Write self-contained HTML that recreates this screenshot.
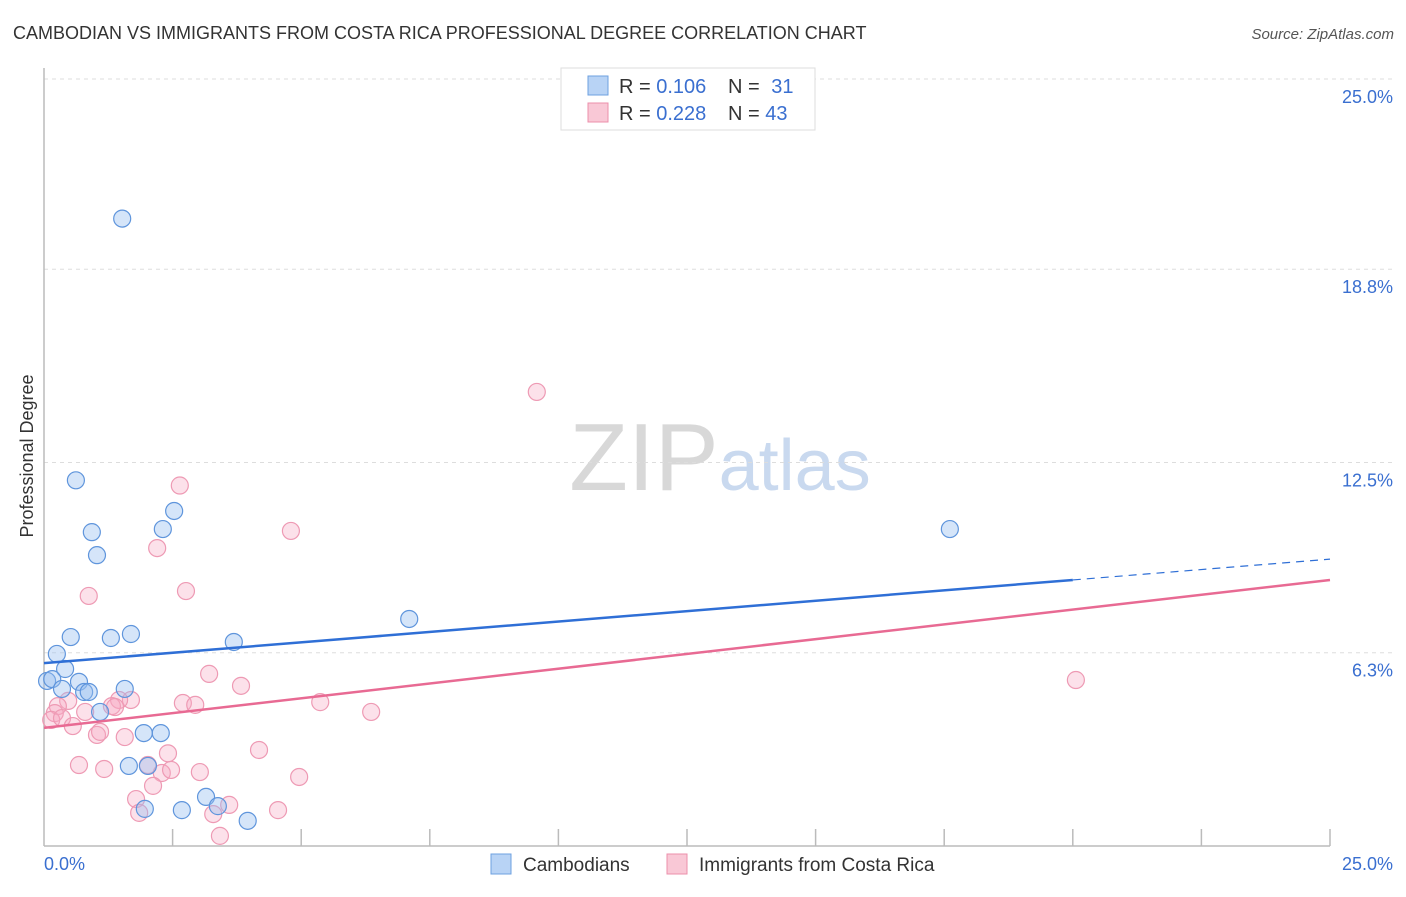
<!DOCTYPE html>
<html><head><meta charset="utf-8"><style>
body{margin:0;background:#fff;font-family:"Liberation Sans",sans-serif;}
svg text{font-family:"Liberation Sans",sans-serif;}
</style></head><body>
<svg id="chart" width="1406" height="892" xmlns="http://www.w3.org/2000/svg">
<text x="13" y="39" font-size="18" fill="#333">CAMBODIAN VS IMMIGRANTS FROM COSTA RICA PROFESSIONAL DEGREE CORRELATION CHART</text>
<text x="1394" y="39" font-size="15" fill="#555" text-anchor="end" font-style="italic">Source: ZipAtlas.com</text>
<text x="720" y="490" font-size="96" text-anchor="middle" fill="#ddd" font-family="Liberation Serif"><tspan fill="#d8d8d8">ZIP</tspan><tspan fill="#c9d9ef" font-family="Liberation Sans" font-size="72">atlas</tspan></text>
<text transform="translate(33,456) rotate(-90)" font-size="18" fill="#333" text-anchor="middle">Professional Degree</text>
<g id="grid"></g><g id="axes"></g><g id="marks"></g>
<g>
<rect x="561" y="68" width="254" height="62" fill="#fff" stroke="#ddd"/>
<rect x="588" y="76" width="20" height="19" fill="#b8d3f5" stroke="#6ea0e0"/>
<text x="619" y="93" font-size="20" fill="#333">R = <tspan fill="#3a6fd0">0.106</tspan></text>
<text x="728" y="93" font-size="20" fill="#333">N = <tspan fill="#3a6fd0" dx="6">31</tspan></text>
<rect x="588" y="103" width="20" height="19" fill="#f9c8d6" stroke="#ec8fab"/>
<text x="619" y="120" font-size="20" fill="#333">R = <tspan fill="#3a6fd0">0.228</tspan></text>
<text x="728" y="120" font-size="20" fill="#333">N = <tspan fill="#3a6fd0">43</tspan></text>
</g>
<g>
<rect x="491" y="854" width="20" height="20" fill="#b8d3f5" stroke="#6ea0e0"/>
<text x="523" y="871" font-size="19" fill="#333">Cambodians</text>
<rect x="667" y="854" width="20" height="20" fill="#f9c8d6" stroke="#ec8fab"/>
<text x="699" y="871" font-size="19" fill="#333">Immigrants from Costa Rica</text>
</g>
</svg>
<script>
const yTicks=[25.0,18.8,12.5,6.3];
const yTickLabels=["25.0%","18.8%","12.5%","6.3%"];
const xTickCount=10;
const cambodiaX=[1.52,0.62,0.93,1.03,2.31,2.53,0.52,1.30,1.69,3.69,7.10,17.61,0.25,0.41,0.06,0.16,0.68,0.35,0.78,0.87,1.57,1.09,2.27,1.94,1.65,2.02,1.96,2.68,3.15,3.38,3.96];
const cambodiaY=[20.45,11.92,10.23,9.48,10.33,10.92,6.81,6.78,6.91,6.65,7.40,10.33,6.26,5.77,5.38,5.44,5.35,5.12,5.02,5.02,5.12,4.37,3.68,3.68,2.61,2.61,1.21,1.17,1.60,1.30,0.82];
const costaX=[9.58,2.64,4.80,2.20,0.87,2.76,3.21,3.83,20.06,5.37,2.70,2.94,1.69,1.46,1.32,1.38,0.47,0.27,0.21,0.14,0.35,0.56,0.80,1.03,1.57,1.09,6.36,2.41,4.18,0.68,1.17,2.02,2.29,2.47,3.03,4.96,2.12,1.79,1.85,3.29,3.60,4.55,3.42];
const costaY=[14.80,11.75,10.27,9.71,8.15,8.31,5.61,5.22,5.41,4.69,4.66,4.60,4.76,4.76,4.56,4.53,4.73,4.56,4.33,4.11,4.17,3.91,4.37,3.62,3.55,3.72,4.37,3.02,3.13,2.64,2.51,2.64,2.38,2.48,2.41,2.25,1.96,1.53,1.08,1.04,1.34,1.17,0.33];
const blueTrend=[5.96,9.35];
const pinkTrend=[3.85,8.67];
const X0=44,X1=1330,Y0=846,Y25=79;
const sx=v=>X0+(X1-X0)*v/25, sy=v=>Y0-(Y0-Y25)*v/25;
const NS="http://www.w3.org/2000/svg";
function mk(tag,attrs,parent){const e=document.createElementNS(NS,tag);for(const k in attrs)e.setAttribute(k,attrs[k]);document.getElementById(parent).appendChild(e);return e;}
yTicks.forEach((t,i)=>{
 const l=mk('line',{x1:X0,x2:1394,y1:sy(t),y2:sy(t),stroke:'#ddd','stroke-dasharray':'4,4'},'grid');
 
 
 const tx=mk('text',{x:1393,y:sy(t)+24,'font-size':18,fill:'#3a6fd0','text-anchor':'end'},'axes');
 tx.textContent=yTickLabels[i];
 
 
});
let a=mk('line',{x1:X0,x2:X0,y1:68,y2:Y0,stroke:'#bbb','stroke-width':1.5},'axes');


a=mk('line',{x1:X0,x2:X1,y1:Y0,y2:Y0,stroke:'#bbb','stroke-width':1.5},'axes');


for(let i=1;i<=xTickCount;i++){
 const x=sx(25*i/xTickCount);
 const t=mk('line',{x1:x,x2:x,y1:829,y2:Y0,stroke:'#bbb','stroke-width':1.5},'axes');
 
 
}
let xl=mk('text',{x:44,y:870,'font-size':18,fill:'#3a6fd0'},'axes');xl.textContent='0.0%';


xl=mk('text',{x:1393,y:870,'font-size':18,fill:'#3a6fd0','text-anchor':'end'},'axes');xl.textContent='25.0%';


costaX.forEach((v,i)=>{
 const c=mk('circle',{cx:sx(v),cy:sy(costaY[i]),r:8.5,fill:'rgba(246,170,195,0.35)',stroke:'#ee9ab4','stroke-width':1.2},'marks');
 
 
});
cambodiaX.forEach((v,i)=>{
 const c=mk('circle',{cx:sx(v),cy:sy(cambodiaY[i]),r:8.5,fill:'rgba(150,190,240,0.4)',stroke:'#5f95dc','stroke-width':1.2},'marks');
 
 
});
const bx=20.0, by=blueTrend[0]+(blueTrend[1]-blueTrend[0])*bx/25;
let ln=mk('line',{x1:sx(0),y1:sy(blueTrend[0]),x2:sx(bx),y2:sy(by),stroke:'#2f6fd6','stroke-width':2.5},'marks');


ln=mk('line',{x1:sx(bx),y1:sy(by),x2:sx(25),y2:sy(blueTrend[1]),stroke:'#2f6fd6','stroke-width':1.2,'stroke-dasharray':'8,6'},'marks');


ln=mk('line',{x1:sx(0),y1:sy(pinkTrend[0]),x2:sx(25),y2:sy(pinkTrend[1]),stroke:'#e86a93','stroke-width':2.5},'marks');


</script>
</body></html>
